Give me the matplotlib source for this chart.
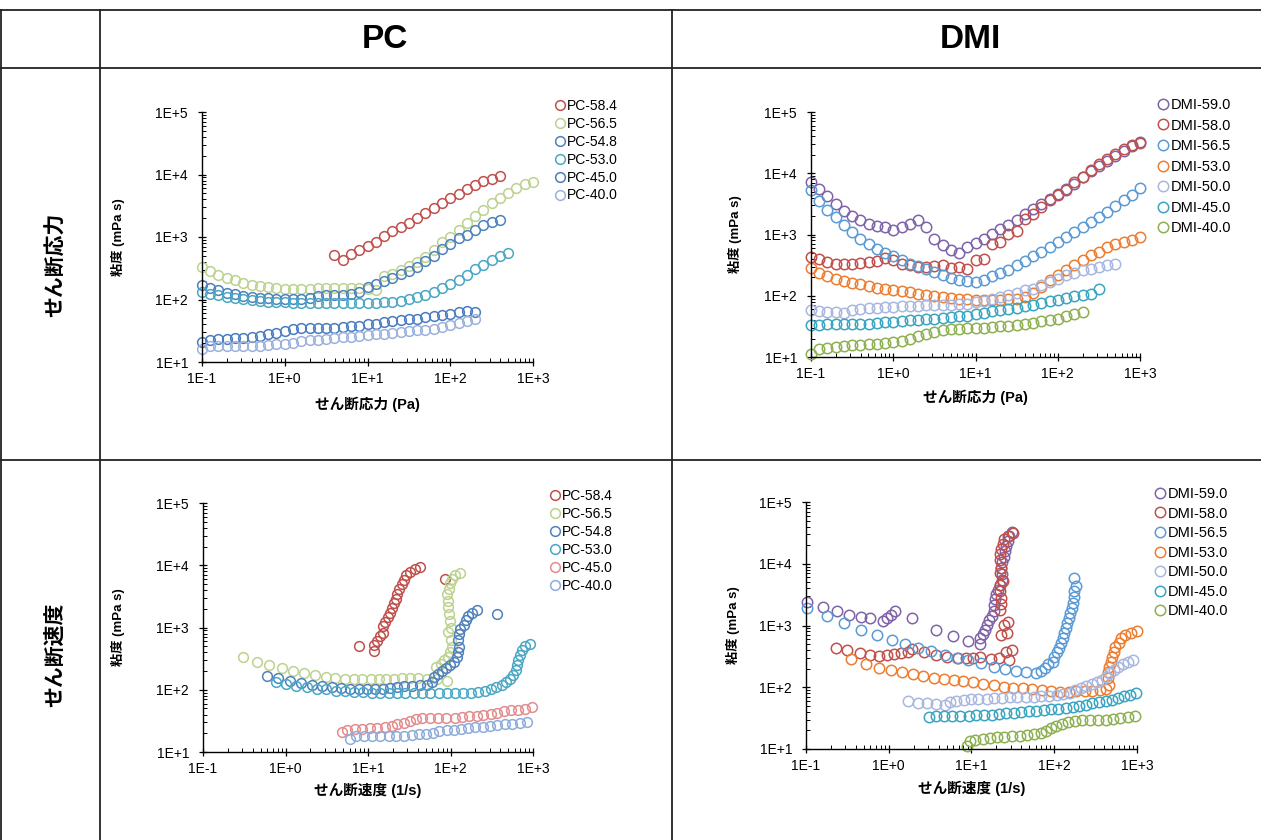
import numpy as np
import matplotlib
matplotlib.use('Agg')
import matplotlib.pyplot as plt
from matplotlib.ticker import LogLocator, FuncFormatter, NullFormatter

plt.rcParams['font.family'] = ['Liberation Sans', 'Noto Sans CJK JP']

# shear stress grid of the measurement (Pa), 10 points per decade
stress = [0.1, 0.126, 0.158, 0.2, 0.251, 0.316, 0.398, 0.501, 0.631, 0.794,
          1.0, 1.26, 1.58, 2.0, 2.51, 3.16, 3.98, 5.01, 6.31, 7.94,
          10, 12.6, 15.8, 20, 25.1, 31.6, 39.8, 50.1, 63.1, 79.4,
          100, 126, 158, 200, 251, 316, 398, 501, 631, 794, 1000]

# ---- PC viscosity (mPa s), first index into the stress grid ----
pc_labels = ['PC-58.4', 'PC-56.5', 'PC-54.8', 'PC-53.0', 'PC-45.0', 'PC-40.0']
pc_start = [16, 0, 0, 0, 0, 0]
pc_584 = [510, 425, 530, 610, 720, 830, 1040, 1230, 1450, 1700, 2040, 2450, 2880,
          3500, 4160, 4940, 5860, 6880, 7870, 8580, 9350]
pc_565 = [331, 283, 250, 221, 203, 186, 173, 162, 157, 151, 149, 147, 147, 149,
          151, 151, 153, 155, 155, 151, 147, 140, 235, 260, 300, 340, 400, 480,
          620, 840, 990, 1290, 1660, 2170, 2700, 3460, 4160, 5100, 6000, 7000, 7600]
pc_548 = [169, 155, 140, 129, 121, 114, 110, 107, 104, 103, 102, 103, 103, 107,
          112, 117, 117, 118, 121, 132, 158, 179, 198, 224, 254, 283, 332, 407,
          495, 641, 780, 963, 1090, 1313, 1539, 1740, 1895]
pc_530 = [132, 124, 117, 110, 104, 101, 97, 95, 92, 91, 90, 89, 89, 89, 89, 88,
          88, 88, 88, 88, 88, 89, 90, 92, 96, 102, 111, 118, 133, 151, 175, 205,
          247, 304, 356, 429, 497, 548]
pc_450 = [20.9, 22.7, 23, 23.6, 24, 24.5, 25.1, 26, 27.7, 29.1, 31.3, 33.3, 35,
          35, 35.4, 35.4, 35.4, 36.3, 37.2, 38.1, 40, 41, 43, 45, 46.5, 48, 49.5,
          52, 54, 56.5, 59, 62, 66, 64]
pc_400 = [16.3, 17.8, 17.8, 17.8, 17.8, 17.8, 18, 18.3, 18.5, 19.2, 19.7, 20.4,
          21.7, 22.2, 22.8, 23.6, 24.5, 25.1, 25.4, 26, 27, 27.7, 28.4, 29.1,
          29.8, 31, 32.1, 32.9, 34.2, 36.3, 39.5, 42.6, 44.8, 49.4]
pc_visc = [pc_584, pc_565, pc_548, pc_530, pc_450, pc_400]
# points seen only in the shear-rate chart: (label, rate 1/s, viscosity)
pc_rate_extra = [('PC-58.4', 85, 6000), ('PC-54.8', 371, 1650)]

# ---- DMI viscosity (mPa s) ----
dmi_labels = ['DMI-59.0', 'DMI-58.0', 'DMI-56.5', 'DMI-53.0', 'DMI-50.0', 'DMI-45.0', 'DMI-40.0']
dmi_start = [0, 0, 0, 0, 0, 0, 0]
dmi_590 = [7190, 5600, 4250, 3190, 2420, 1980, 1700, 1500, 1360, 1320, 1170, 1320,
           1500, 1700, 1320, 855, 665, 551, 499, 625, 726, 855, 1030, 1245, 1410,
           1700, 2130, 2640, 3190, 3750, 4530, 5460, 6760, 8690, 10750, 12970,
           15850, 19140, 23080, 27840, 32360]
dmi_580 = [430, 403, 356, 334, 326, 334, 343, 356, 369, 419, 379, 334, 314, 294,
           294, 302, 314, 288, 294, 277, 379, 403, 690, 753, 1030, 1140, 1815,
           2190, 2810, 3610, 4470, 5260, 7190, 8690, 11460, 14330, 17300, 20900,
           25200, 28560, 31200]
dmi_565 = [5400, 3520, 2540, 1930, 1410, 1100, 855, 690, 579, 499, 440, 388, 334,
           302, 277, 244, 215, 195, 183, 174, 168, 183, 207, 235, 260, 314, 369,
           440, 517, 625, 753, 910, 1100, 1325, 1600, 1930, 2330, 2880, 3610, 4360, 5820]
dmi_530 = [288, 235, 207, 190, 174, 162, 153, 142, 135, 131, 126, 120, 115, 108,
           102, 99, 95.5, 92, 89.5, 87, 85, 84, 86, 86, 87, 89, 95, 110, 140, 179,
           215, 260, 314, 379, 457, 518, 625, 690, 753, 803, 910]
dmi_500 = [59.3, 56.4, 55, 54, 52.3, 57.8, 60.8, 62.5, 63.8, 65.5, 65.5, 67.1, 68,
           68.9, 69.8, 69.8, 70.7, 71.6, 72.5, 74.3, 78, 82, 89.5, 95.5, 104, 111,
           122, 131, 148, 168, 190, 215, 235, 260, 277, 294, 314, 326]
dmi_450 = [32.9, 33.7, 34.1, 34.1, 34.1, 34.1, 35, 35, 35.9, 36.8, 37.8, 38.7,
           39.7, 40.7, 41.3, 42.3, 43.9, 45, 46.1, 47.3, 50, 52.5, 55.7, 57.8, 60,
           63.1, 67.1, 71.5, 76.2, 81.1, 86.3, 91.8, 97.8, 104, 108, 131]
dmi_400 = [11.3, 13.3, 14.2, 14.7, 15.1, 15.5, 15.9, 16.1, 16.5, 16.9, 17.4, 18.2,
           19.7, 21.7, 24, 25.6, 27.2, 28.3, 29, 29.3, 29.5, 30, 30.9, 31.7, 32.5,
           33.7, 35, 36.4, 38.2, 40, 42.5, 46, 50, 54]
dmi_visc = [dmi_590, dmi_580, dmi_565, dmi_530, dmi_500, dmi_450, dmi_400]

pc_colors_top = ['#C0504D', '#BCD28F', '#4F81BD', '#4BA7C4', '#4A7CC0', '#9BB1DC']
pc_colors_bot = ['#C0504D', '#BCD28F', '#4F81BD', '#4BA7C4', '#E28C8F', '#8EABDB']
dmi_colors = ['#7F63A8', '#C0504D', '#5B9BD5', '#ED7D31', '#A9B7E0', '#3AA5C0', '#8DB050']

W, H = 1261, 840
fig = plt.figure(figsize=(W / 100, H / 100), dpi=100)

# table grid and headings
bg = fig.add_axes([0, 0, 1, 1])
bg.set_xlim(0, W)
bg.set_ylim(H, 0)
bg.axis('off')
bg.set_zorder(-1)
for yy in [10, 68, 460]:
    bg.plot([0, W], [yy, yy], color='#222222', lw=1.3)
for xx in [1, 100, 672]:
    bg.plot([xx, xx], [10, H], color='#222222', lw=1.3)
bg.text(385, 40, 'PC', fontsize=24, fontweight='bold', ha='center', va='center')
bg.text(970, 40, 'DMI', fontsize=24, fontweight='bold', ha='center', va='center')
bg.text(55, 265, 'せん断応力', fontsize=15, fontweight='bold', rotation=90,
        ha='center', va='center', family='Noto Sans CJK JP')
bg.text(55, 655, 'せん断速度', fontsize=15, fontweight='bold', rotation=90,
        ha='center', va='center', family='Noto Sans CJK JP')


def px_axes(x0, y0, x1, y1):
    return fig.add_axes([x0 / W, 1 - y1 / H, (x1 - x0) / W, (y1 - y0) / H])


def fmt(v, pos):
    return f"1E{int(round(np.log10(v))):+d}"


def style(ax, xlabel, xl_y, yl_x):
    ax.set_facecolor('none')
    ax.set_xscale('log')
    ax.set_yscale('log')
    ax.set_xlim(0.1, 1000)
    ax.set_ylim(10, 1e5)
    for s in ['top', 'right']:
        ax.spines[s].set_visible(False)
    for s in ['left', 'bottom']:
        ax.spines[s].set_linewidth(1.0)
    for axis in [ax.xaxis, ax.yaxis]:
        axis.set_major_locator(LogLocator(base=10, numticks=10))
        axis.set_minor_locator(LogLocator(base=10, subs=np.arange(2, 10), numticks=10))
        axis.set_major_formatter(FuncFormatter(fmt))
        axis.set_minor_formatter(NullFormatter())
    ax.tick_params(which='major', direction='inout', length=6, width=0.9, labelsize=10)
    ax.tick_params(which='minor', direction='in', length=3, width=0.7)
    ax.tick_params(axis='y', which='major', pad=7)
    ax.tick_params(axis='x', which='major', pad=4)
    ax.set_xlabel(xlabel, fontsize=10.5, fontweight='bold')
    ax.xaxis.set_label_coords(0.5, xl_y)
    ax.xaxis.label.set_va('center')
    ax.set_ylabel('粘度 (mPa s)', fontsize=9.5, fontweight='bold')
    ax.yaxis.set_label_coords(yl_x, 0.5)
    ax.yaxis.label.set_va('center')


def draw(ax, xs, ys, colors, labels, ms, leg_xy, fs, spacing):
    handles = []
    for x, y, c, lab in zip(xs, ys, colors, labels):
        x = np.asarray(x, float)
        y = np.asarray(y, float)
        keep = (x >= 0.099) & (x <= 1010) & (y >= 9.9) & (y <= 1.01e5)
        h, = ax.plot(x[keep], y[keep], 'o', mfc='none', mec=c, ms=ms, mew=1.1,
                     ls='none', label=lab, clip_on=False)
        handles.append(h)
    ax.legend(handles=handles, loc='upper left',
              bbox_to_anchor=(leg_xy[0] / W, 1 - leg_xy[1] / H),
              bbox_transform=fig.transFigure, frameon=False, fontsize=fs,
              handlelength=0.8, handletextpad=0.15, labelspacing=spacing,
              borderpad=0, borderaxespad=0)


def series(visc, start):
    s = np.array(stress[start:start + len(visc)])
    v = np.array(visc, float)
    return s, v


pc_s = [series(v, st) for v, st in zip(pc_visc, pc_start)]
dmi_s = [series(v, st) for v, st in zip(dmi_visc, dmi_start)]

# shear rate (1/s) = stress (Pa) / viscosity (Pa s)
pc_rate = [s / (v / 1000.0) for s, v in pc_s]
pc_rate_visc = [v for s, v in pc_s]
for lab, r, v in pc_rate_extra:
    k = pc_labels.index(lab)
    pc_rate[k] = np.append(pc_rate[k], r)
    pc_rate_visc[k] = np.append(pc_rate_visc[k], v)
dmi_rate = [s / (v / 1000.0) for s, v in dmi_s]

# top left: PC vs shear stress
ax1 = px_axes(202, 112, 533, 362)
style(ax1, 'せん断応力 (Pa)', -0.17, -0.254)
draw(ax1, [s for s, v in pc_s], [v for s, v in pc_s], pc_colors_top, pc_labels,
     7, (554, 99), 10, 0.28)

# top right: DMI vs shear stress
ax2 = px_axes(811, 112, 1140, 357)
style(ax2, 'せん断応力 (Pa)', -0.163, -0.231)
draw(ax2, [s for s, v in dmi_s], [v for s, v in dmi_s], dmi_colors, dmi_labels,
     7.5, (1157, 98), 10.5, 0.45)

# bottom left: PC vs shear rate
ax3 = px_axes(203, 503, 533, 752)
style(ax3, 'せん断速度 (1/s)', -0.153, -0.258)
draw(ax3, pc_rate, pc_rate_visc, pc_colors_bot, pc_labels, 7, (549, 489), 10, 0.29)

# bottom right: DMI vs shear rate
ax4 = px_axes(806, 502, 1137, 749)
style(ax4, 'せん断速度 (1/s)', -0.158, -0.22)
draw(ax4, dmi_rate, [v for s, v in dmi_s], dmi_colors, dmi_labels, 7.5, (1154, 487), 10.5, 0.38)

fig.savefig('out.png', dpi=100)
